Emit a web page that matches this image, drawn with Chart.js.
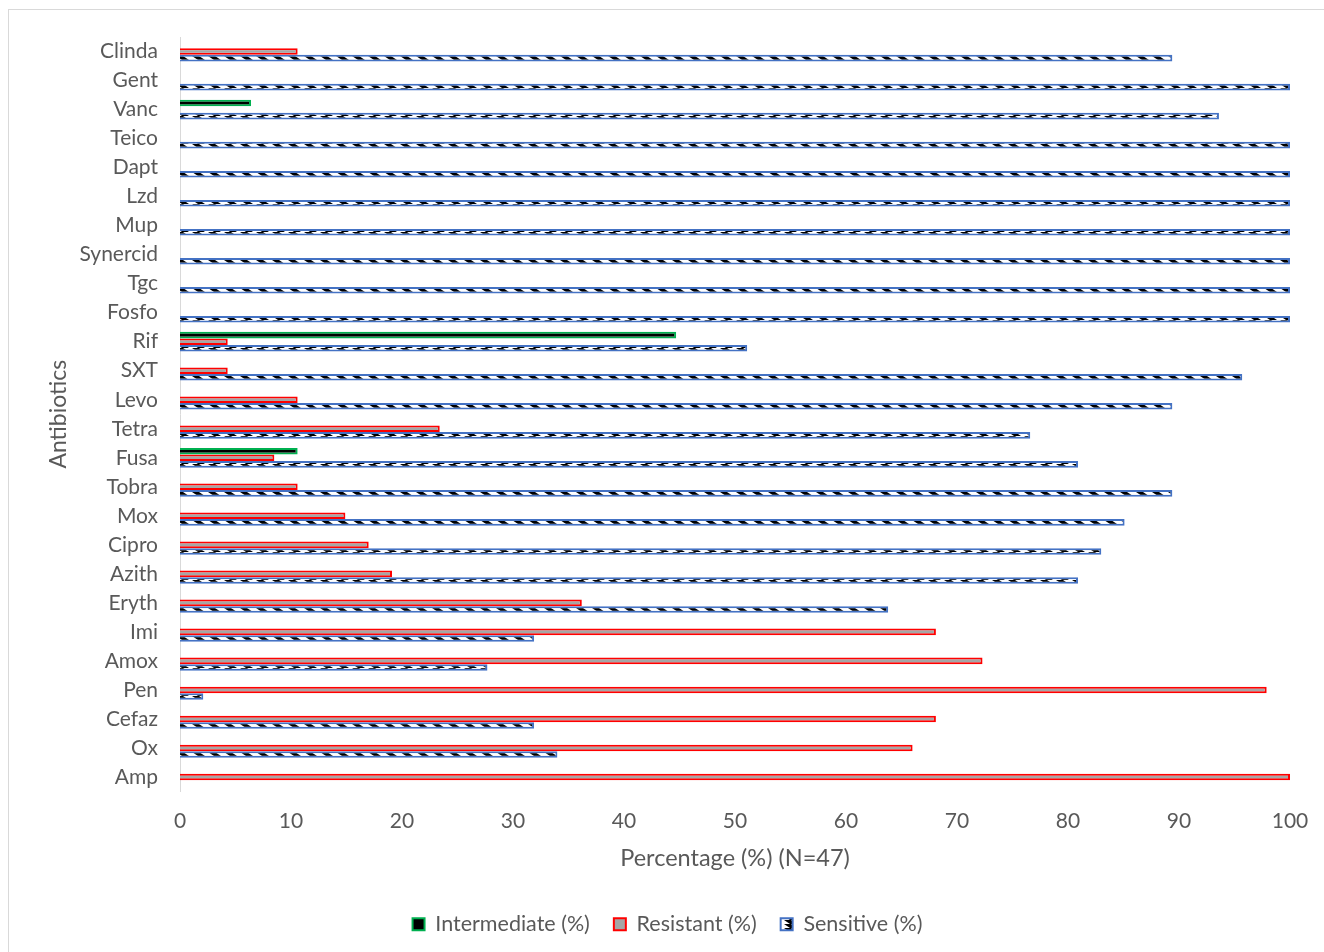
<!DOCTYPE html>
<html>
<head>
<meta charset="utf-8">
<script src="https://cdn.jsdelivr.net/npm/chart.js@4.4.1/dist/chart.umd.min.js"></script>
<style>
  html, body { margin: 0; padding: 0; background: #fff; }
  #wrap { position: relative; width: 1324px; height: 952px; }
  #frame { position: absolute; left: 8px; top: 9px; width: 1330px; height: 960px; border: 1px solid #d9d9d9; box-sizing: border-box; }
  canvas { position: absolute; left: 0; top: 0; }
</style>
</head>
<body>
<div id="wrap">
  <div id="frame"></div>
  <canvas id="c" width="1324" height="952"></canvas>
</div>
<script>
// Antibiotic susceptibility of 47 isolates, percentages per antibiotic
const antibiotics = ["Clinda", "Gent", "Vanc", "Teico", "Dapt", "Lzd", "Mup", "Synercid", "Tgc", "Fosfo",
  "Rif", "SXT", "Levo", "Tetra", "Fusa", "Tobra", "Mox", "Cipro", "Azith", "Eryth",
  "Imi", "Amox", "Pen", "Cefaz", "Ox", "Amp"];
const intermediate = [null, null, 6.4, null, null, null, null, null, null, null,
  44.7, null, null, null, 10.6, null, null, null, null, null,
  null, null, null, null, null, null];
const resistant = [10.6, null, null, null, null, null, null, null, null, null,
  4.3, 4.3, 10.6, 23.4, 8.5, 10.6, 14.9, 17.0, 19.1, 36.2,
  68.1, 72.3, 97.9, 68.1, 66.0, 100];
const sensitive = [89.4, 100, 93.6, 100, 100, 100, 100, 100, 100, 100,
  51.1, 95.7, 89.4, 76.6, 80.9, 89.4, 85.1, 83.0, 80.9, 63.8,
  31.9, 27.7, 2.1, 31.9, 34.0, null];
const xTicks = [0, 10, 20, 30, 40, 50, 60, 70, 80, 90, 100];
</script>
<script>
const FONT = "Lato, 'Open Sans', sans-serif";
const TEXT = "#595959";

// Black slanted dashes on white, used for the "Sensitive" fill
function dashPattern() {
  const p = document.createElement("canvas");
  p.width = 16; p.height = 4;
  const g = p.getContext("2d");
  g.fillStyle = "#fff";
  g.fillRect(0, 0, 16, 4);
  g.fillStyle = "#000";
  g.beginPath();
  g.moveTo(0, 0); g.lineTo(7, 0); g.lineTo(13, 4); g.lineTo(6, 4);
  g.closePath();
  g.fill();
  return g.createPattern(p, "repeat");
}

const ctx = document.getElementById("c").getContext("2d");
new Chart(ctx, {
  type: "bar",
  data: {
    labels: antibiotics,
    datasets: [
      { label: "Intermediate (%)", data: intermediate, backgroundColor: "#000000", borderColor: "#00b050", borderWidth: 2 },
      { label: "Resistant (%)", data: resistant, backgroundColor: "#a6a6a6", borderColor: "#ff0000", borderWidth: 2 },
      { label: "Sensitive (%)", data: sensitive, backgroundColor: dashPattern(), borderColor: "#4472c4", borderWidth: 2 }
    ]
  },
  options: {
    indexAxis: "y",
    responsive: false,
    animation: false,
    devicePixelRatio: 1,
    categoryPercentage: 0.68,
    barPercentage: 1.0,
    layout: { padding: { left: 45, right: 34, top: 37, bottom: 7 } },
    plugins: {
      tooltip: { enabled: false },
      legend: {
        position: "bottom",
        labels: {
          color: TEXT,
          font: { family: FONT, size: 21.5 },
          boxWidth: 12,
          boxHeight: 12,
          padding: 24
        }
      }
    },
    scales: {
      x: {
        min: 0, max: 100,
        afterBuildTicks: s => { s.ticks = xTicks.map(v => ({ value: v })); },
        grid: { display: false, drawTicks: false },
        border: { display: false },
        ticks: { color: TEXT, font: { family: FONT, size: 21 }, padding: 17 },
        title: { display: true, text: "Percentage (%) (N=47)", color: TEXT, font: { family: FONT, size: 23.5 }, padding: { top: 4, bottom: 17 } },
        afterFit: s => { s.height = 98; s.paddingLeft = 0; s.paddingRight = 0; }
      },
      y: {
        grid: { display: false, drawTicks: false },
        border: { display: true, color: "#d9d9d9", width: 1 },
        ticks: { color: TEXT, font: { family: FONT, size: 21 }, padding: 22, autoSkip: false },
        title: { display: true, text: "Antibiotics", color: TEXT, font: { family: FONT, size: 23 }, padding: 0 },
        afterFit: s => { s.width = 135; }
      }
    }
  }
});
</script>
</body>
</html>
